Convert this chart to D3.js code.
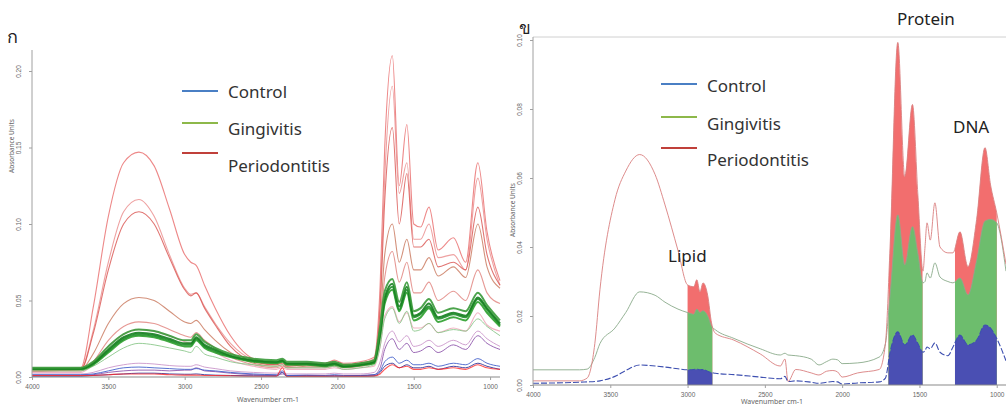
<!DOCTYPE html>
<html>
<head>
<meta charset="utf-8">
<script src="https://cdn.jsdelivr.net/npm/d3@7/dist/d3.min.js"></script>
<style>
  html, body { margin: 0; padding: 0; background: #fff; }
  svg { display: block; font-family: "Noto Sans", "Open Sans", "DejaVu Sans", sans-serif; }
</style>
</head>
<body>
<svg id="chart" width="1006" height="408"></svg>
<script>
// ---------- Panel ก : individual FTIR spectra ----------
const waveA = [4000, 3680, 3600, 3500, 3400, 3300, 3200, 3100, 3000, 2960, 2925, 2870, 2800, 2700, 2550, 2400, 2360, 2330, 2200, 2080, 2020, 1960, 1850, 1760, 1720, 1690, 1640, 1595, 1545, 1500, 1455, 1400, 1340, 1240, 1160, 1080, 1020, 935];

const periodontitisA = [
  [.005, .006, .045, .105, .14, .147, .138, .11, .08, .075, .073, .06, .045, .027, .012, .009, .011, .008, .009, .009, .011, .009, .01, .013, .06, .15, .21, .125, .165, .1, .098, .111, .083, .091, .075, .14, .095, .063],
  [.004, .005, .03, .075, .108, .116, .105, .08, .058, .054, .055, .046, .035, .022, .011, .008, .01, .007, .008, .008, .01, .008, .009, .012, .05, .13, .19, .12, .14, .09, .09, .1, .078, .08, .07, .13, .09, .06],
  [.004, .005, .028, .07, .1, .108, .1, .078, .057, .053, .055, .045, .034, .02, .01, .008, .009, .007, .008, .007, .009, .008, .009, .011, .045, .115, .163, .1, .133, .085, .085, .09, .072, .075, .07, .111, .08, .06],
  [.004, .005, .015, .035, .048, .052, .05, .043, .036, .035, .037, .031, .024, .016, .009, .007, .008, .006, .007, .007, .008, .007, .008, .01, .035, .08, .1, .075, .09, .07, .07, .078, .066, .072, .065, .1, .072, .058],
  [.004, .004, .01, .024, .033, .036, .035, .031, .027, .026, .029, .024, .019, .013, .008, .006, .007, .006, .006, .006, .007, .006, .007, .009, .03, .065, .082, .062, .075, .055, .055, .062, .05, .056, .05, .07, .055, .048],
  [.003, .003, .008, .02, .028, .031, .03, .027, .023, .022, .025, .02, .016, .011, .007, .005, .006, .005, .005, .005, .006, .005, .006, .007, .02, .04, .046, .036, .042, .032, .032, .035, .029, .032, .03, .042, .034, .03],
  [.001, .001, .001, .0015, .002, .002, .002, .0015, .0012, .0012, .0012, .001, .001, .0008, .0005, .0005, .006, .0003, .0004, .0004, .0005, .0004, .0004, .0006, .002, .005, .008, .006, .007, .005, .005, .006, .005, .006, .005, .008, .006, .005]
];
const periodontitisColors = ["#e86a6a", "#ea8a8a", "#d9534f", "#c8765a", "#e0807a", "#eea0b4", "#ff2a2a"];

const gingivitisA = [
  [.004, .004, .007, .013, .019, .022, .021, .019, .017, .016, .02, .015, .013, .01, .008, .007, .008, .006, .006, .006, .007, .005, .006, .008, .02, .038, .045, .035, .043, .03, .031, .035, .029, .031, .03, .038, .033, .027],
  [.005, .005, .008, .016, .024, .027, .026, .023, .02, .02, .024, .019, .016, .013, .01, .009, .01, .008, .008, .007, .008, .0065, .0075, .009, .027, .048, .057, .043, .055, .037, .039, .045, .036, .039, .037, .049, .042, .033],
  [.0052, .0052, .0085, .017, .025, .028, .027, .024, .021, .021, .025, .02, .017, .0135, .0105, .0095, .0105, .0085, .0085, .0075, .0085, .007, .008, .0095, .028, .05, .059, .044, .057, .039, .041, .046, .038, .041, .039, .051, .044, .034],
  [.0055, .0055, .009, .018, .026, .029, .028, .025, .022, .022, .026, .021, .018, .014, .011, .01, .011, .009, .009, .008, .009, .007, .008, .01, .03, .052, .061, .046, .059, .04, .042, .048, .039, .042, .04, .052, .045, .035],
  [.006, .006, .01, .02, .028, .031, .03, .027, .024, .024, .028, .023, .019, .015, .012, .011, .012, .01, .01, .009, .01, .008, .009, .011, .033, .056, .064, .049, .062, .043, .045, .051, .042, .045, .043, .055, .047, .037]
];
const gingivitisColors = ["#8cc88c", "#2ea02e", "#1f8f2a", "#168020", "#3a9a3a"];

const controlA = [
  [.002, .002, .003, .006, .008, .009, .0085, .0075, .007, .007, .008, .0065, .0055, .004, .003, .0025, .003, .002, .002, .002, .0025, .002, .002, .003, .01, .022, .03, .023, .027, .02, .021, .024, .02, .024, .021, .03, .025, .02],
  [.001, .001, .0015, .003, .004, .0045, .0045, .004, .0045, .0045, .006, .004, .0035, .0025, .0015, .001, .002, .0008, .001, .0008, .001, .0008, .001, .0015, .006, .018, .025, .018, .022, .016, .017, .02, .016, .021, .018, .027, .022, .018],
  [.0015, .0015, .002, .004, .006, .0065, .006, .0055, .005, .005, .0055, .0045, .004, .003, .002, .0015, .004, .001, .0012, .001, .0015, .001, .001, .0015, .004, .01, .013, .009, .011, .008, .008, .009, .007, .009, .008, .012, .009, .007],
  [.0005, .0005, .001, .0015, .002, .0025, .0025, .002, .0018, .0018, .002, .0015, .0012, .001, .0008, .0006, .003, .0004, .0005, .0004, .0005, .0004, .0005, .0008, .003, .007, .009, .006, .008, .006, .006, .007, .005, .007, .006, .009, .007, .005]
];
const controlColors = ["#c890c8", "#8a4fa8", "#3a58c8", "#2a2a90"];

// ---------- Panel ข : group mean spectra ----------
const waveB = [4000, 3700, 3650, 3600, 3567, 3470, 3400, 3310, 3210, 3146, 3062, 3000, 2960, 2940, 2920, 2900, 2870, 2845, 2820, 2700, 2530, 2400, 2370, 2350, 2300, 2200, 2150, 2100, 2060, 2030, 2000, 1900, 1760, 1720, 1690, 1640, 1595, 1545, 1510, 1477, 1464, 1451, 1430, 1400, 1367, 1316, 1283, 1238, 1186, 1130, 1076, 1040, 1000, 940];
const periodontitisB = [.0012, .0012, .002, .012, .0276, .0537, .062, .0668, .061, .0522, .039, .029, .0285, .0305, .027, .0296, .026, .018, .015, .013, .009, .0055, .0075, .001, .0045, .0035, .0029, .004, .0042, .0038, .0023, .0035, .0045, .012, .04, .0993, .0604, .0813, .055, .033, .04, .047, .042, .0528, .04, .0383, .0383, .0444, .0343, .048, .0688, .058, .0499, .035];
const gingivitisB = [.0044, .0044, .0046, .008, .012, .0165, .021, .027, .026, .024, .022, .021, .0205, .022, .021, .0215, .02, .017, .016, .0135, .0105, .0087, .0092, .0087, .0085, .0075, .0058, .0068, .0075, .0073, .0062, .0064, .0081, .012, .026, .0493, .0348, .0459, .038, .0296, .03, .0325, .031, .0354, .0313, .03, .0296, .031, .0261, .036, .0475, .048, .047, .033];
const controlB = [.0005, .0008, .0009, .001, .0012, .0025, .0042, .0058, .0055, .0052, .0047, .0044, .0045, .0046, .0044, .0045, .004, .0036, .0034, .003, .0023, .0018, .0025, .001, .0012, .0008, .0005, .0008, .001, .0009, .0003, .0006, .0009, .002, .0095, .0154, .0116, .0145, .012, .0095, .01, .011, .0105, .0122, .0095, .0085, .011, .0145, .0116, .013, .0174, .0165, .0135, .007];

// shaded bands [from, to] in cm-1
const bandNames = ["Lipid", "Protein", "DNA"];
const bandRanges = [[3000, 2840], [1700, 1480], [1270, 1000]];

const legendNames = ["Control", "Gingivitis", "Periodontitis"];
const legendColors = ["#4a7fc4", "#8db84a", "#c0403a"];

const xTicks = [4000, 3500, 3000, 2500, 2000, 1500, 1000];
const yTicksA = [0, 0.05, 0.10, 0.15, 0.20];
const yTicksB = [0, 0.02, 0.04, 0.06, 0.08, 0.10];

// ---------- drawing ----------
const svg = d3.select("#chart");
const axisGray = "#a0a0a0";
const labelGray = "#666";

function drawAxes(g, x, y, yTicks, yFmt, x0, x1, y0, yTop, yTitleY, xTitleX, xTitleY) {
  // axis lines
  g.append("line").attr("x1", x0).attr("x2", x0).attr("y1", y0).attr("y2", yTop)
    .attr("stroke", axisGray).attr("stroke-width", 1);
  g.append("line").attr("x1", x0).attr("x2", x1).attr("y1", y0).attr("y2", y0)
    .attr("stroke", "#8a8a8a").attr("stroke-width", 1.2);

  const ya = g.append("g").attr("transform", `translate(${x0},0)`)
    .call(d3.axisLeft(y).tickValues(yTicks).tickSize(3).tickFormat(d3.format(yFmt)));
  ya.select(".domain").remove();
  ya.selectAll(".tick line").attr("stroke", axisGray);
  ya.selectAll(".tick text")
    .attr("transform", "rotate(-90)")
    .attr("x", 0).attr("y", -11).attr("dy", "0")
    .style("text-anchor", "middle")
    .attr("font-size", 6.5).attr("fill", labelGray);

  const xa = g.append("g").attr("transform", `translate(0,${y0})`)
    .call(d3.axisBottom(x).tickValues(xTicks).tickSize(3).tickFormat(d3.format("d")));
  xa.select(".domain").remove();
  xa.selectAll(".tick line").attr("stroke", axisGray);
  xa.selectAll(".tick text").attr("font-size", 6.5).attr("fill", labelGray).attr("dy", "0.9em");

  g.append("text").attr("x", xTitleX).attr("y", xTitleY)
    .attr("text-anchor", "middle").attr("font-size", 7).attr("fill", labelGray)
    .text("Wavenumber cm-1");
  g.append("text")
    .attr("transform", `translate(${x0 - 18},${yTitleY}) rotate(-90)`)
    .attr("text-anchor", "middle").attr("font-size", 6.5).attr("fill", labelGray)
    .text("Absorbance Units");
}

function drawLegend(g, lx, lineYs, textYs) {
  legendNames.forEach((name, i) => {
    g.append("line").attr("x1", lx).attr("x2", lx + 36)
      .attr("y1", lineYs[i]).attr("y2", lineYs[i])
      .attr("stroke", legendColors[i]).attr("stroke-width", 2.2);
    g.append("text").attr("x", lx + 46).attr("y", textYs[i])
      .attr("font-size", 17).attr("fill", "#333").text(name);
  });
}

// ---- panel ก ----
const xA = d3.scaleLinear().domain([4000, 935]).range([32, 500]);
const yA = d3.scaleLinear().domain([0, 0.2]).range([377, 71]);
const gA = svg.append("g");

svg.append("defs").append("clipPath").attr("id", "clipA")
  .append("rect").attr("x", 32).attr("y", 30).attr("width", 470).attr("height", 348);

const lineA = d3.line().x((d, i) => xA(waveA[i])).y(d => yA(d)).curve(d3.curveMonotoneX);
const plotA = gA.append("g").attr("clip-path", "url(#clipA)");

controlA.forEach((s, i) => plotA.append("path").attr("d", lineA(s))
  .attr("fill", "none").attr("stroke", controlColors[i]).attr("stroke-width", 1).attr("opacity", 0.85));
periodontitisA.forEach((s, i) => plotA.append("path").attr("d", lineA(s))
  .attr("fill", "none").attr("stroke", periodontitisColors[i]).attr("stroke-width", 1.1).attr("opacity", 0.8));
gingivitisA.forEach((s, i) => plotA.append("path").attr("d", lineA(s))
  .attr("fill", "none").attr("stroke", gingivitisColors[i]).attr("stroke-width", i === 0 ? 1 : 2).attr("opacity", 0.9));

drawAxes(gA, xA, yA, yTicksA, ".2f", 32, 500, 377, 50, 146, 268, 402);
drawLegend(gA, 182, [91, 123, 153], [98, 135, 172]);
gA.append("text").attr("x", 7).attr("y", 43).attr("font-size", 18).attr("fill", "#222").text("ก");

// ---- panel ข ----
const xB = d3.scaleLinear().domain([4000, 940]).range([533, 1006]);
const yB = d3.scaleLinear().domain([0, 0.1]).range([385, 40]);
const gB = svg.append("g");

// frame top
gB.append("line").attr("x1", 533).attr("x2", 1006).attr("y1", 37).attr("y2", 37)
  .attr("stroke", "#d0d0d0").attr("stroke-width", 1);

const defs = svg.select("defs");
bandRanges.forEach((r, i) => {
  defs.append("clipPath").attr("id", "band" + i)
    .append("rect").attr("x", xB(r[0])).attr("y", 0)
    .attr("width", xB(r[1]) - xB(r[0])).attr("height", yB(0));
});

const areaB = d3.area().x((d, i) => xB(waveB[i])).y0(yB(0)).y1(d => yB(d)).curve(d3.curveMonotoneX);
const lineB = d3.line().x((d, i) => xB(waveB[i])).y(d => yB(d)).curve(d3.curveMonotoneX);

const fills = [[periodontitisB, "#f26e6e"], [gingivitisB, "#6dbd6d"], [controlB, "#4a4fb3"]];
bandRanges.forEach((r, i) => {
  const band = gB.append("g").attr("clip-path", `url(#band${i})`);
  fills.forEach(([s, c]) => band.append("path").attr("d", areaB(s)).attr("fill", c));
});

gB.append("path").attr("d", lineB(gingivitisB)).attr("fill", "none")
  .attr("stroke", "#8bab8b").attr("stroke-width", 1).attr("opacity", 0.9);
gB.append("path").attr("d", lineB(periodontitisB)).attr("fill", "none")
  .attr("stroke", "#d98080").attr("stroke-width", 1).attr("opacity", 0.9);
gB.append("path").attr("d", lineB(controlB)).attr("fill", "none")
  .attr("stroke", "#3d4fb0").attr("stroke-width", 1.1).attr("stroke-dasharray", "6,2");

drawAxes(gB, xB, yB, yTicksB, ".2f", 533, 1006, 385, 37, 210, 772, 404);
drawLegend(gB, 661, [84, 117, 148], [92, 130, 166]);
gB.append("text").attr("x", 519).attr("y", 34).attr("font-size", 17).attr("fill", "#222").text("ข");

// band annotations
const bandLabelPos = [[668, 262], [897, 25], [953, 133]];
bandNames.forEach((n, i) => {
  gB.append("text").attr("x", bandLabelPos[i][0]).attr("y", bandLabelPos[i][1])
    .attr("font-size", 17).attr("fill", "#222").text(n);
});
</script>
</body>
</html>
